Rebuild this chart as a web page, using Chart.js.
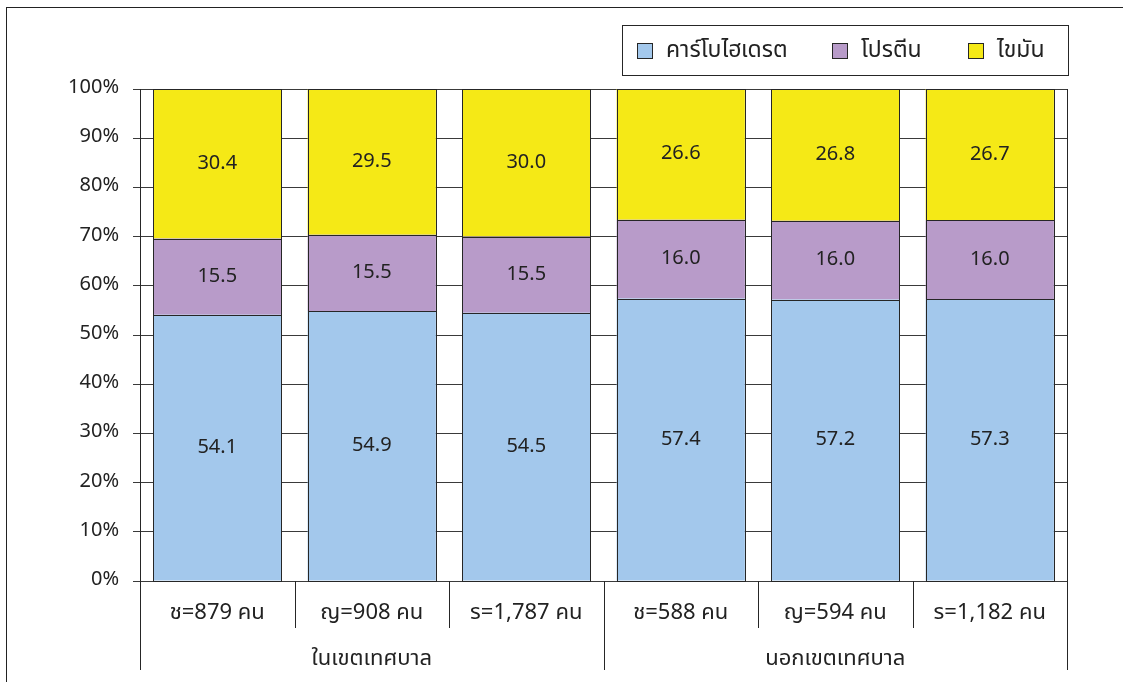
<!DOCTYPE html>
<html>
<head>
<meta charset="utf-8">
<script src="https://cdn.jsdelivr.net/npm/chart.js@4.4.1/dist/chart.umd.min.js"></script>
<style>
  html, body { margin: 0; padding: 0; background: #fff; }
  #wrap { position: relative; width: 1123px; height: 682px; }
  #frame { position: absolute; left: 6px; top: 7px; width: 1130px; height: 700px; border: 1px solid #222; box-sizing: border-box; pointer-events: none; }
  canvas { position: absolute; left: 0; top: 0; }
</style>
</head>
<body>
<div id="wrap">
  <canvas id="c" width="1123" height="682"></canvas>
  <div id="frame"></div>
</div>
<script>
// Sample sizes per group (upper label row) and area (lower label row)
const categories = ['ช=879 คน', 'ญ=908 คน', 'ร=1,787 คน', 'ช=588 คน', 'ญ=594 คน', 'ร=1,182 คน'];
const groups = ['ในเขตเทศบาล', 'นอกเขตเทศบาล'];
const groupSize = 3;

// Share of energy from each nutrient (%)
const carbohydrate = [54.1, 54.9, 54.5, 57.4, 57.2, 57.3];
const protein      = [15.5, 15.5, 15.5, 16.0, 16.0, 16.0];
const fat          = [30.4, 29.5, 30.0, 26.6, 26.8, 26.7];

const seriesNames = ['คาร์โบไฮเดรต', 'โปรตีน', 'ไขมัน'];
const yTicks = [0, 10, 20, 30, 40, 50, 60, 70, 80, 90, 100];

const FONT = '"Noto Sans Thai", "Noto Sans", "DejaVu Sans", sans-serif';
const TXT = '#222';
const LINE = '#262626';

const colors = ['#A3C8EC', '#B89BC9', '#F5E916'];

// Crisp outlines and value labels for every bar segment
const segmentLabels = {
  id: 'segmentLabels',
  afterDatasetsDraw(chart) {
    const ctx = chart.ctx;
    ctx.save();
    ctx.strokeStyle = LINE;
    ctx.lineWidth = 1;
    chart.data.datasets.forEach((ds, di) => {
      const meta = chart.getDatasetMeta(di);
      meta.data.forEach(el => {
        const l = Math.round(el.x - el.width / 2) + 0.5;
        const r = Math.round(el.x + el.width / 2) + 0.5;
        const t = Math.round(Math.min(el.y, el.base)) + 0.5;
        const b = Math.round(Math.max(el.y, el.base)) + 0.5;
        ctx.strokeRect(l, t, r - l, b - t);
      });
    });
    ctx.font = '20px ' + FONT;
    ctx.fillStyle = TXT;
    ctx.textAlign = 'center';
    ctx.textBaseline = 'middle';
    chart.data.datasets.forEach((ds, di) => {
      const meta = chart.getDatasetMeta(di);
      meta.data.forEach((el, i) => {
        const v = ds.data[i];
        ctx.fillText(v.toFixed(1), el.x, (el.y + el.base) / 2 + 1);
      });
    });
    ctx.restore();
  }
};

// Plot border, two-level category labels and separators, legend box
const decorations = {
  id: 'decorations',
  afterDraw(chart) {
    const ctx = chart.ctx;
    const xs = chart.scales.x;
    const area = chart.chartArea;
    const n = categories.length;
    const step = (area.right - area.left) / n;
    const row1 = area.bottom + 34;
    const row2 = area.bottom + 80;
    const shortEnd = area.bottom + 47;
    const longEnd = area.bottom + 89;

    ctx.save();
    ctx.strokeStyle = LINE;
    ctx.lineWidth = 1;
    // right border of plot
    ctx.beginPath();
    ctx.moveTo(Math.round(area.right) + 0.5, area.top);
    ctx.lineTo(Math.round(area.right) + 0.5, area.bottom);
    ctx.stroke();

    // separators below the axis
    for (let i = 0; i <= n; i++) {
      const x = Math.round(xs.getPixelForValue(i) - step / 2) + 0.5;
      const isGroupEdge = i % groupSize === 0;
      ctx.beginPath();
      ctx.moveTo(x, area.bottom);
      ctx.lineTo(x, isGroupEdge ? longEnd : shortEnd);
      ctx.stroke();
    }

    ctx.font = '22px ' + FONT;
    ctx.fillStyle = TXT;
    ctx.textAlign = 'center';
    ctx.textBaseline = 'middle';
    categories.forEach((c, i) => {
      ctx.fillText(c, xs.getPixelForValue(i), row1);
    });
    groups.forEach((g, gi) => {
      const first = xs.getPixelForValue(gi * groupSize);
      const last = xs.getPixelForValue(gi * groupSize + groupSize - 1);
      ctx.fillText(g, (first + last) / 2, row2);
    });

    // legend
    const lx = 622.5, ly = 25.5, lw = 446, lh = 50;
    ctx.fillStyle = '#fff';
    ctx.fillRect(lx, ly, lw, lh);
    ctx.strokeRect(lx, ly, lw, lh);
    const boxX = [637, 832, 968];
    ctx.textAlign = 'left';
    ctx.font = '23px ' + FONT;
    chart.data.datasets.forEach((ds, di) => {
      const bx = boxX[di];
      ctx.fillStyle = ds.backgroundColor;
      ctx.fillRect(bx + 0.5, 43.5, 15, 15);
      ctx.strokeRect(bx + 0.5, 43.5, 15, 15);
      ctx.fillStyle = TXT;
      ctx.fillText(ds.label, bx + 29, 52);
    });
    ctx.restore();
  }
};

new Chart(document.getElementById('c'), {
  type: 'bar',
  data: {
    labels: categories,
    datasets: [
      { label: seriesNames[0], data: carbohydrate, backgroundColor: colors[0] },
      { label: seriesNames[1], data: protein, backgroundColor: colors[1] },
      { label: seriesNames[2], data: fat, backgroundColor: colors[2] }
    ].map(d => Object.assign(d, {
      borderWidth: 0,
      barPercentage: 0.83,
      categoryPercentage: 1.0
    }))
  },
  options: {
    responsive: false,
    animation: false,
    devicePixelRatio: 1,
    layout: { padding: { left: 0, top: 89, right: 56, bottom: 0 } },
    plugins: {
      legend: { display: false },
      tooltip: { enabled: false }
    },
    scales: {
      x: {
        stacked: true,
        grid: { display: false },
        border: { display: false },
        ticks: { display: false },
        afterFit(s) { s.height = 101; }
      },
      y: {
        stacked: true,
        min: 0,
        max: 100,
        afterBuildTicks(s) { s.ticks = yTicks.map(v => ({ value: v })); },
        afterFit(s) { s.width = 140; },
        grid: { color: '#3a3a3a', lineWidth: 1, tickLength: 7, drawTicks: true },
        border: { display: true, color: LINE, width: 1 },
        ticks: {
          color: TXT,
          padding: 14,
          font: { family: FONT, size: 20 },
          callback: v => v + '%'
        }
      }
    }
  },
  plugins: [segmentLabels, decorations]
});
</script>
</body>
</html>
